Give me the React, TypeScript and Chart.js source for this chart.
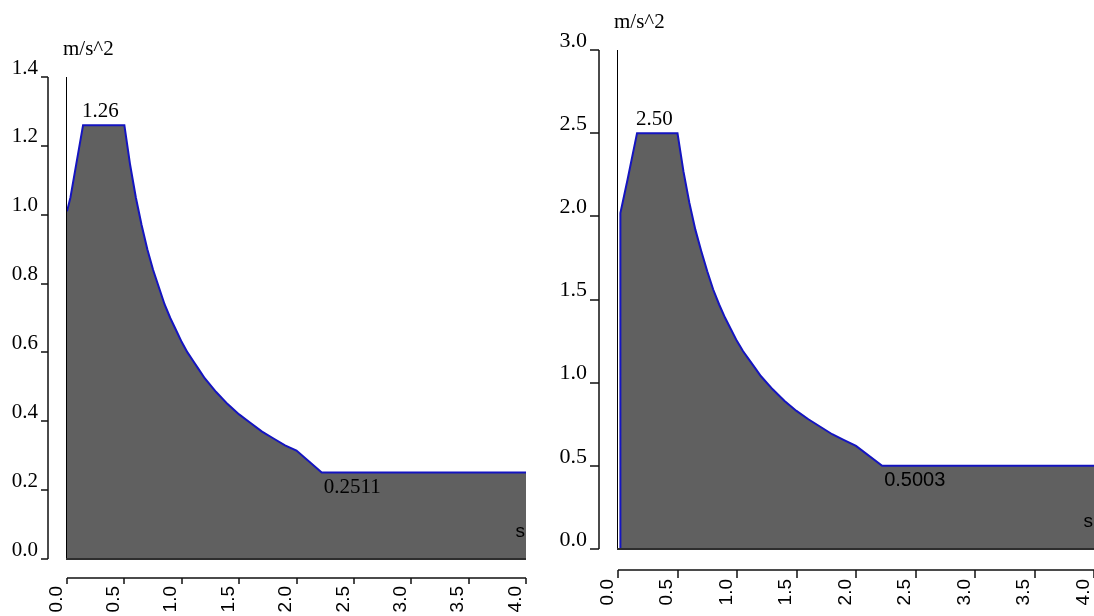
import React, { useEffect, useRef } from "react";
import { Chart, registerables } from "chart.js";

Chart.register(...registerables);

// ---- data ----
// left spectrum
const periodsA = [0, 0.03, 0.14, 0.5, 0.55, 0.6, 0.65, 0.7, 0.75, 0.8, 0.85, 0.9, 0.95, 1.0, 1.05, 1.1, 1.15, 1.2, 1.3, 1.4, 1.5, 1.6, 1.7, 1.8, 1.9, 2.0, 2.22, 4.0];
const accelA = [1.01, 1.05, 1.26, 1.26, 1.145, 1.05, 0.97, 0.9, 0.84, 0.79, 0.74, 0.7, 0.665, 0.63, 0.6, 0.575, 0.55, 0.525, 0.485, 0.45, 0.42, 0.395, 0.37, 0.35, 0.33, 0.315, 0.2511, 0.2511];
// right spectrum
const periodsB = [0.02, 0.02, 0.08, 0.16, 0.5, 0.55, 0.6, 0.65, 0.7, 0.75, 0.8, 0.85, 0.9, 0.95, 1.0, 1.05, 1.1, 1.15, 1.2, 1.3, 1.4, 1.5, 1.6, 1.7, 1.8, 1.9, 2.0, 2.22, 4.0];
const accelB = [0, 2.02, 2.22, 2.5, 2.5, 2.27, 2.08, 1.92, 1.79, 1.67, 1.56, 1.47, 1.39, 1.32, 1.25, 1.19, 1.14, 1.09, 1.04, 0.96, 0.89, 0.83, 0.78, 0.735, 0.69, 0.655, 0.62, 0.5003, 0.5003];

const xTicks = [0, 0.5, 1.0, 1.5, 2.0, 2.5, 3.0, 3.5, 4.0];
const yTicksA = [0, 0.2, 0.4, 0.6, 0.8, 1.0, 1.2, 1.4];
const yTicksB = [0, 0.5, 1.0, 1.5, 2.0, 2.5, 3.0];

const unitY = "m/s^2";
const unitX = "s";

// ---- panel layout ----
const panels = [
  {
    periods: periodsA, accel: accelA, yTicks: yTicksA, yMax: 1.4,
    left: 0, canvasW: 547,
    padTop: 77, padRight: 21, yAxisW: 67, xAxisH: 57,
    yGap: 19, yTickLen: 7, xGap: 19, xTickLen: 6,
    yLabelPad: 29, xLabelPad: 27, yFont: 21,
    tailFont: "21px 'Liberation Serif'",
  },
  {
    periods: periodsB, accel: accelB, yTicks: yTicksB, yMax: 3.0,
    left: 547, canvasW: 547,
    padTop: 50, padRight: 0, yAxisW: 71, xAxisH: 67,
    yGap: 19, yTickLen: 9, xGap: 21, xTickLen: 8,
    yLabelPad: 31, xLabelPad: 30, yFont: 22,
    tailFont: "20px 'Liberation Sans'",
  },
];

function framePlugin(p: any) {
  return {
    id: "frameAxes",
    afterDraw(chart: any) {
      const { ctx, scales } = chart;
      const xs = scales.x;
      const ys = scales.y;
      const x0 = xs.getPixelForValue(xTicks[0]);
      const x4 = xs.getPixelForValue(xTicks[xTicks.length - 1]);
      const y0 = ys.getPixelForValue(p.yTicks[0]);
      const yTop = ys.getPixelForValue(p.yTicks[p.yTicks.length - 1]);
      ctx.save();
      // detached y axis
      ctx.strokeStyle = "#111";
      ctx.lineWidth = 1.5;
      const ax = Math.round(x0 - p.yGap);
      ctx.beginPath();
      ctx.moveTo(ax, yTop);
      ctx.lineTo(ax, y0);
      p.yTicks.forEach((v: number) => {
        const py = Math.round(ys.getPixelForValue(v));
        ctx.moveTo(ax, py);
        ctx.lineTo(ax - p.yTickLen, py);
      });
      ctx.stroke();
      // detached x axis
      const ay = Math.round(y0 + p.xGap);
      ctx.beginPath();
      ctx.moveTo(x0, ay);
      ctx.lineTo(x4, ay);
      xTicks.forEach((v) => {
        const px = Math.round(xs.getPixelForValue(v));
        ctx.moveTo(px, ay);
        ctx.lineTo(px, ay + p.xTickLen);
      });
      ctx.stroke();
      // plot frame: left and bottom
      ctx.strokeStyle = "#000";
      ctx.lineWidth = 1;
      ctx.beginPath();
      ctx.moveTo(Math.round(x0) - 0.5, yTop);
      ctx.lineTo(Math.round(x0) - 0.5, y0);
      ctx.stroke();
      ctx.strokeStyle = "#2e2e2e";
      ctx.lineWidth = 2;
      ctx.beginPath();
      ctx.moveTo(x0 - 1, y0);
      ctx.lineTo(x4, y0);
      ctx.stroke();

      // texts
      ctx.fillStyle = "#000";
      ctx.textBaseline = "alphabetic";
      ctx.textAlign = "left";
      ctx.font = "21px 'Liberation Serif'";
      ctx.fillText(unitY, x0 - 4, yTop - 22);

      const peak = Math.max(...p.accel);
      const peakIdx = p.accel.indexOf(peak);
      ctx.fillText(
        peak.toFixed(2),
        xs.getPixelForValue(p.periods[peakIdx]) - 1,
        ys.getPixelForValue(peak) - 8
      );

      const tailIdx = p.accel.length - 2;
      ctx.font = p.tailFont;
      ctx.fillText(
        p.accel[tailIdx].toFixed(4),
        xs.getPixelForValue(p.periods[tailIdx]) + 2,
        ys.getPixelForValue(p.accel[tailIdx]) + 20
      );

      ctx.font = "19px 'Liberation Sans'";
      ctx.textAlign = "right";
      ctx.fillText(unitX, x4 - 1, y0 - 22);
      ctx.restore();
    },
  };
}

function buildConfig(p: any): any {
  return {
    type: "line",
    data: {
      datasets: [
        {
          data: p.periods.map((t: number, i: number) => ({ x: t, y: p.accel[i] })),
          borderColor: "#1414c0",
          borderWidth: 2,
          backgroundColor: "#606060",
          fill: "origin",
          pointRadius: 0,
          tension: 0,
        },
      ],
    },
    options: {
      animation: false,
      responsive: false,
      maintainAspectRatio: false,
      events: [],
      layout: { padding: { top: p.padTop, right: p.padRight, left: 0, bottom: 0 } },
      plugins: {
        legend: { display: false },
        tooltip: { enabled: false },
        title: { display: false },
      },
      scales: {
        x: {
          type: "linear",
          min: xTicks[0],
          max: xTicks[xTicks.length - 1],
          afterBuildTicks: (s: any) => {
            s.ticks = xTicks.map((v) => ({ value: v }));
          },
          afterFit: (s: any) => {
            s.height = p.xAxisH;
            s.paddingLeft = 0;
            s.paddingRight = 0;
          },
          grid: { display: false, drawTicks: false },
          border: { display: false },
          ticks: {
            autoSkip: false,
            minRotation: 90,
            maxRotation: 90,
            padding: p.xLabelPad,
            labelOffset: -10.5,
            color: "#000",
            font: { family: "'Liberation Sans'", size: 19 },
            callback: (v: any) => Number(v).toFixed(1),
          },
        },
        y: {
          type: "linear",
          min: 0,
          max: p.yMax,
          afterBuildTicks: (s: any) => {
            s.ticks = p.yTicks.map((v: number) => ({ value: v }));
          },
          afterFit: (s: any) => {
            s.width = p.yAxisW;
            s.paddingTop = 0;
            s.paddingBottom = 0;
          },
          grid: { display: false, drawTicks: false },
          border: { display: false },
          ticks: {
            padding: p.yLabelPad,
            labelOffset: -9,
            color: "#000",
            font: { family: "'Liberation Serif'", size: p.yFont },
            callback: (v: any) => Number(v).toFixed(1),
          },
        },
      },
    },
    plugins: [framePlugin(p)],
  };
}

function SpectrumChart({ panel }: { panel: any }) {
  const ref = useRef<HTMLCanvasElement>(null);
  useEffect(() => {
    const chart = new Chart(ref.current as HTMLCanvasElement, buildConfig(panel));
    return () => chart.destroy();
  }, [panel]);
  return (
    <canvas
      ref={ref}
      width={panel.canvasW}
      height={616}
      style={{ position: "absolute", left: panel.left, top: 0, width: panel.canvasW, height: 616 }}
    />
  );
}

export default function App() {
  return (
    <div
      style={{
        position: "absolute",
        left: 0,
        top: 0,
        width: 1094,
        height: 616,
        overflow: "hidden",
        background: "#fff",
      }}
    >
      {panels.map((p, i) => (
        <SpectrumChart key={i} panel={p} />
      ))}
    </div>
  );
}
